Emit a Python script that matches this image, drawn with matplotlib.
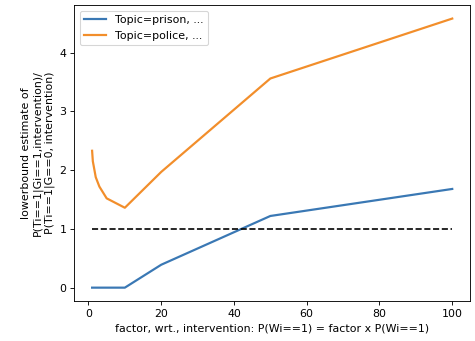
import matplotlib
matplotlib.use("Agg")
import matplotlib.pyplot as plt

# factor values on the x axis
factors = [1, 1.2, 1.5, 2, 3, 5, 10, 20, 50, 100]
prison = [0, 0, 0, 0, 0, 0, 0, 0.39, 1.22, 1.68]
police = [2.33, 2.15, 2.05, 1.88, 1.72, 1.52, 1.36, 1.97, 3.56, 4.58]
labels = ["Topic=prison, ...", "Topic=police, ..."]

DPI = 79.2
fig = plt.figure(figsize=(475 / DPI, 341 / DPI), dpi=DPI)
ax = fig.add_axes([0.156, 0.117, 0.834, 0.868])

ax.plot(factors, prison, color="#3a78b4", lw=2, label=labels[0])
ax.plot(factors, police, color="#f28e2b", lw=2, label=labels[1])
ax.plot([factors[0], factors[-1]], [1, 1], "k--", lw=1.5)

ax.set_xlabel("factor, wrt., intervention: P(Wi==1) = factor x P(Wi==1)")
ax.set_ylabel("lowerbound estimate of\nP(Ti==1|Gi==1,intervention)/\nP(Ti==1|G==0, intervention)")
ax.legend(loc="upper left")

fig.savefig("out.png", dpi=DPI)
